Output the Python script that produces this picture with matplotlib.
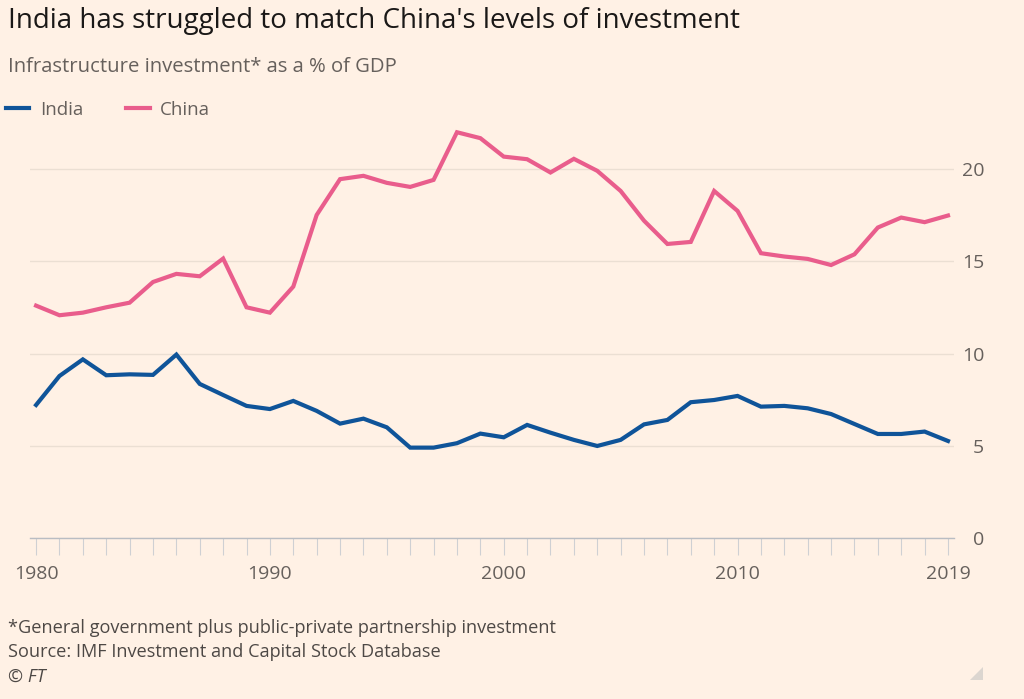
import matplotlib
matplotlib.use('Agg')
import matplotlib.pyplot as plt
from matplotlib.patches import Polygon
import numpy as np

# data (infrastructure investment, % of GDP)
years = list(range(1980, 2020))
india = [7.22, 8.79, 9.69, 8.83, 8.88, 8.85, 9.95, 8.36, 7.76, 7.17,
         7.00, 7.44, 6.90, 6.21, 6.48, 6.01, 4.91, 4.91, 5.15, 5.67,
         5.47, 6.14, 5.72, 5.33, 5.00, 5.33, 6.17, 6.41, 7.37, 7.49,
         7.71, 7.13, 7.17, 7.04, 6.73, 6.19, 5.65, 5.65, 5.78, 5.27]
china = [12.60, 12.08, 12.22, 12.51, 12.76, 13.88, 14.32, 14.19, 15.15, 12.51,
         12.22, 13.63, 17.51, 19.45, 19.63, 19.25, 19.03, 19.41, 21.99, 21.67,
         20.67, 20.53, 19.81, 20.55, 19.90, 18.81, 17.20, 15.94, 16.05, 18.81,
         17.73, 15.44, 15.26, 15.13, 14.80, 15.38, 16.83, 17.37, 17.12, 17.48]
series_names = ['India', 'China']
x_tick_years = [1980, 1990, 2000, 2010, 2019]
y_ticks = [0, 5, 10, 15, 20]

BG = '#fff1e5'
GREY = '#66605c'
BLUE = '#0f5499'
PINK = '#e95d8c'

plt.rcParams['font.family'] = ['Open Sans', 'DejaVu Sans']

W, H = 1024, 699
fig = plt.figure(figsize=(W / 100, H / 100), dpi=100, facecolor=BG)

# axes placed so 1980..2019 and 0..20 land where the reference has them
ax_left, ax_right = 30, 953.6
ax_bottom_px, ax_top_px = 538.3, 113.6
ax = fig.add_axes([ax_left / W, 1 - ax_bottom_px / H,
                   (ax_right - ax_left) / W, (ax_bottom_px - ax_top_px) / H])
ax.set_facecolor(BG)

ax.plot(years, india, color=BLUE, lw=3, label=series_names[0],
        solid_joinstyle='miter', zorder=3)
ax.plot(years, china, color=PINK, lw=3, label=series_names[1],
        solid_joinstyle='miter', zorder=3)

ax.set_xlim(1979.74, 2019.24)
ax.set_ylim(0, 23)

for s in ['top', 'left', 'right']:
    ax.spines[s].set_visible(False)
ax.spines['bottom'].set_color('#b9bdc3')
ax.spines['bottom'].set_linewidth(1.0)
ax.spines['bottom'].set_zorder(4)

ax.set_xticks(x_tick_years)
ax.set_xticklabels([str(y) for y in x_tick_years])
ax.set_xticks(years, minor=True)
ax.tick_params(axis='x', which='both', length=12, width=0.8,
               color='#cfd0d3', direction='out')
ax.tick_params(axis='x', which='major', pad=7, labelsize=14,
               labelcolor=GREY)

ax.yaxis.tick_right()
ax.set_yticks(y_ticks)
ax.tick_params(axis='y', length=0, pad=22, labelsize=14, labelcolor=GREY)
for lab in ax.get_yticklabels():
    lab.set_horizontalalignment('right')
ax.grid(axis='y', color='#ebdfd3', lw=1.0, zorder=0)
ax.set_axisbelow(True)

# titles
fig.text(8 / W, 1 - 28 / H,
         "India has struggled to match China's levels of investment",
         fontsize=20, color='#1a1817', va='baseline', ha='left')
fig.text(8 / W, 1 - 71.7 / H, 'Infrastructure investment* as a % of GDP',
         fontsize=14.6, color=GREY, va='baseline', ha='left')

# legend
fig.legend(loc='center left', bbox_to_anchor=(6 / W, 1 - 110 / H),
           ncol=2, frameon=False, fontsize=13.5, labelcolor=GREY,
           handlelength=1.25, handletextpad=0.55, columnspacing=2.3,
           borderpad=0, borderaxespad=0)

# footnotes
foot = ['*General government plus public-private partnership investment',
        'Source: IMF Investment and Capital Stock Database']
FOOT_C = '#4d4845'
fig.text(8 / W, 1 - 633.3 / H, foot[0], fontsize=13.1, color=FOOT_C,
         va='baseline', ha='left')
fig.text(8 / W, 1 - 657.3 / H, foot[1], fontsize=13.1, color=FOOT_C,
         va='baseline', ha='left')
fig.text(8 / W, 1 - 681.7 / H, '\u00a9 FT', fontsize=13.1, color=FOOT_C,
         va='baseline', ha='left', style='italic')

# small corner mark
tri = Polygon([[983 / W, 1 - 667 / H], [983 / W, 1 - 680 / H],
               [970 / W, 1 - 680 / H]], closed=True,
              transform=fig.transFigure, facecolor='#dcd6d0',
              edgecolor='none')
fig.add_artist(tri)

fig.savefig('out.png', dpi=100, facecolor=BG)
